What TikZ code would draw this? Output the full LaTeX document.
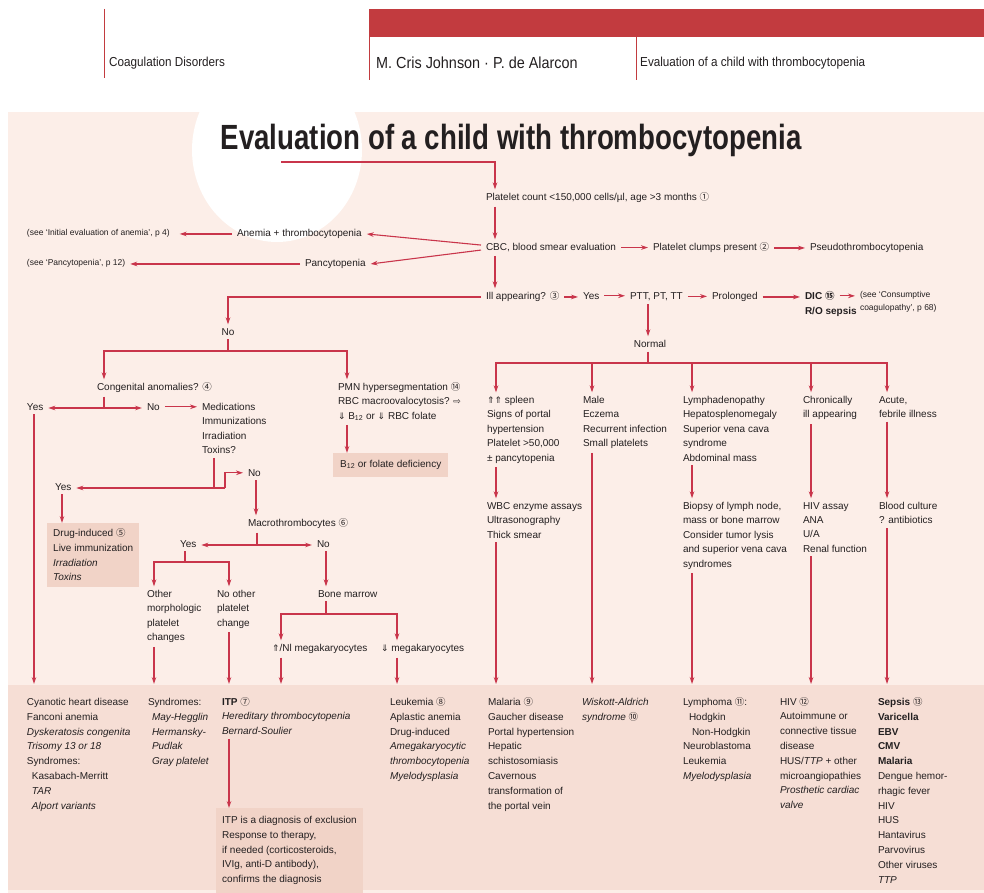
\documentclass[tikz,border=0pt]{standalone}
\usepackage{fontspec}
\setmainfont{Liberation Sans}
\newfontfamily\condfont[FakeStretch=0.9]{Liberation Sans}
\newfontfamily\titlefont[FakeStretch=0.79]{Liberation Sans}
\newfontfamily\symfont{DejaVu Sans}
\newfontfamily\cnfont{Noto Sans CJK SC}
\usepackage{tikz}
\usetikzlibrary{arrows.meta,positioning}
\definecolor{linered}{HTML}{C9354B}
\definecolor{barred}{HTML}{C23B3F}
\definecolor{panel}{HTML}{FCEEE8}
\definecolor{band}{HTML}{F6DED5}
\definecolor{boxfill}{HTML}{F1D3C7}
\definecolor{ink}{HTML}{231F20}
\newcommand{\cnum}[1]{\smash{\cnfont\fontsize{9.5}{9.5}\selectfont #1}}
\newcommand{\sym}[1]{\smash{\symfont\fontsize{9}{9}\selectfont #1}}
\newcommand{\fs}{\fontsize{10}{14.4}\selectfont}
\newcommand{\fsb}{\fontsize{10}{14.8}\selectfont}
\newcommand{\fsn}{\fontsize{8.5}{13}\selectfont}

\begin{document}
\begin{tikzpicture}[x=1pt, y=-1pt,
    tx/.style={inner sep=0pt, outer xsep=5pt, outer ysep=4pt, align=left, font=\fs, text=ink},
    txt/.style={tx, anchor=north west, xshift=-5pt, yshift=7.7pt},
    ctxt/.style={tx, anchor=north, yshift=7.7pt},
    note/.style={txt, font=\fsn},
    bot/.style={txt, font=\fsb},
    box/.style={anchor=north west, fill=boxfill, inner xsep=6pt, inner ysep=6pt, align=left, font=\fsb, text=ink},
    hdr/.style={anchor=base west, inner sep=0pt, text=ink},
    link/.style={linered, line width=1.1pt},
    arr/.style={link, -{Stealth[length=7pt,width=4.6pt]}}]

  % Background
  \fill[white] (0,0) rectangle (984,893);
  \useasboundingbox (0,0) rectangle (984,893);
  \fill[panel] (8,112) rectangle (984,893);
  \fill[band] (8,685) rectangle (984,890);
  \fill[white] (277,150) ellipse [x radius=85pt, y radius=92pt];

  % Header
  \draw[barred, line width=0.8pt] (104,9) -- (104,78);
  \fill[barred] (369,9) rectangle (984,37);
  \draw[barred, line width=0.8pt] (369,37) -- (369,80);
  \draw[barred, line width=0.8pt] (636,37) -- (636,80);
  \node[hdr, font=\condfont\fontsize{13}{13}\selectfont] (hdsec) at (109,67) {Coagulation Disorders};
  \node[hdr, font=\condfont\fontsize{16}{16}\selectfont] (hdauth) at (376,69) {M. Cris Johnson · P. de Alarcon};
  \node[hdr, font=\condfont\fontsize{13}{13}\selectfont] (hdtopic) at (640,67) {Evaluation of a child with thrombocytopenia};

  % Title
  \node[anchor=base, inner sep=0pt, text=ink, font=\titlefont\bfseries\fontsize{35}{35}\selectfont] (title) at (511,150) {Evaluation of a child with thrombocytopenia};

  % Column positions
  \foreach \n/\x in {cM/495, cN/648, c1/34, c2/154, c3/229, c4/281, c5/397,
                     cA/496, cB/592, cC/692, cD/811, cE/887,
                     cCg/104, cPm/347, cTx/214, cDr/62, cMa/256, cBn/326}
    \coordinate (\n) at (\x,0);
  \coordinate (bandtop) at (0,684);
  \coordinate (tA) at (281,162);
  \coordinate (jNo) at (228,351);
  \coordinate (jCg) at (104,408);
  \coordinate (jTx) at (225,488);
  \coordinate (jMa) at (257,545);
  \coordinate (jYs) at (185,562);
  \coordinate (jBn) at (326,614);
  \coordinate (jNm) at (648,363);

  % Main column
  \node[txt] (plt) at (486,197) {Platelet count <150,000 cells/µl, age >3 months \cnum{①}};
  \node[txt] (cbc) at (486,247) {CBC, blood smear evaluation};
  \node[txt] (clump) at (653,247) {Platelet clumps present \cnum{②}};
  \node[txt] (pseudo) at (810,247) {Pseudothrombocytopenia};
  \node[txt] (anem) at (237,233) {Anemia + thrombocytopenia};
  \node[note, outer xsep=10pt, xshift=-5pt] (seeA) at (27,233) {(see ‘Initial evaluation of anemia’, p 4)};
  \node[txt] (pan) at (305,263) {Pancytopenia};
  \node[note] (seeP) at (27,263) {(see ‘Pancytopenia’, p 12)};
  \node[txt] (ill) at (486,296) {Ill appearing? \cnum{③}};
  \node[txt] (yes1) at (583,296) {Yes};
  \node[txt] (ptt) at (630,296) {PTT, PT, TT};
  \node[txt] (prol) at (712,296) {Prolonged};
  \node[txt, font=\fs\bfseries] (dic) at (805,296) {DIC \cnum{⑮}};
  \node[txt, font=\fs\bfseries] (ros) at (805,311) {R/O sepsis};
  \node[note] (seeC) at (860,295) {(see ‘Consumptive\\coagulopathy’, p 68)};
  \node[ctxt] (no1) at (228,332) {No};
  \node[ctxt] (norm) at (650,344) {Normal};

  % Left branch
  \node[txt] (cong) at (97,387) {Congenital anomalies? \cnum{④}};
  \node[txt] (yes2) at (27,407) {Yes};
  \node[txt] (no2) at (147,407) {No};
  \node[txt] (meds) at (202,407) {Medications\\Immunizations\\Irradiation\\Toxins?};
  \node[txt] (yes3) at (55,487) {Yes};
  \node[txt] (no3) at (248,473) {No};
  \node[box] (drug) at (47,523) {Drug-induced \cnum{⑤}\\Live immunization\\\textit{Irradiation}\\\textit{Toxins}};
  \node[txt] (macro) at (248,523) {Macrothrombocytes \cnum{⑥}};
  \node[txt] (yes4) at (180,544) {Yes};
  \node[txt] (no4) at (317,544) {No};
  \node[txt] (other) at (147,594) {Other\\morphologic\\platelet\\changes};
  \node[txt] (noother) at (217,594) {No other\\platelet\\change};
  \node[txt] (bone) at (318,594) {Bone marrow};
  \node[txt] (megaU) at (272,648) {\sym{⇑}/Nl megakaryocytes};
  \node[txt] (megaD) at (381,648) {\sym{⇓} megakaryocytes};
  \node[txt] (pmn) at (338,387) {PMN hypersegmentation \cnum{⑭}\\RBC macroovalocytosis? \sym{⇨}\\\sym{⇓} B\textsubscript{12} or \sym{⇓} RBC folate};
  \node[box, inner xsep=7pt, inner ysep=7pt, font=\fs] (b12) at (333,453) {B\textsubscript{12} or folate deficiency};

  % Right branch
  \node[txt] (spl) at (487,400) {\sym{⇑⇑} spleen\\Signs of portal\\hypertension\\Platelet >50,000\\± pancytopenia};
  \node[txt] (male) at (583,400) {Male\\Eczema\\Recurrent infection\\Small platelets};
  \node[txt] (lymph) at (683,400) {Lymphadenopathy\\Hepatosplenomegaly\\Superior vena cava\\syndrome\\Abdominal mass};
  \node[txt] (chron) at (803,400) {Chronically\\ill appearing};
  \node[txt] (acute) at (879,400) {Acute,\\febrile illness};
  \node[txt] (wbc) at (487,506) {WBC enzyme assays\\Ultrasonography\\Thick smear};
  \node[txt] (biop) at (683,506) {Biopsy of lymph node,\\mass or bone marrow\\Consider tumor lysis\\and superior vena cava\\syndromes};
  \node[txt] (hiv) at (803,506) {HIV assay\\ANA\\U/A\\Renal function};
  \node[txt] (blood) at (879,506) {Blood culture\\? antibiotics};

  % Diagnoses
  \node[bot] (r1) at (27,702) {Cyanotic heart disease\\Fanconi anemia\\\textit{Dyskeratosis congenita}\\\textit{Trisomy 13 or 18}\\Syndromes:\\\hspace*{5pt}Kasabach-Merritt\\\hspace*{5pt}\textit{TAR}\\\hspace*{5pt}\textit{Alport variants}};
  \node[bot] (r2) at (148,702) {Syndromes:\\\hspace*{4pt}\textit{May-Hegglin}\\\hspace*{4pt}\textit{Hermansky-}\\\hspace*{4pt}\textit{Pudlak}\\\hspace*{4pt}\textit{Gray platelet}};
  \node[bot] (r3) at (222,702) {\textbf{ITP} \cnum{⑦}\\\textit{Hereditary thrombocytopenia}\\\textit{Bernard-Soulier}};
  \node[bot] (r4) at (390,702) {Leukemia \cnum{⑧}\\Aplastic anemia\\Drug-induced\\\textit{Amegakaryocytic}\\\textit{thrombocytopenia}\\\textit{Myelodysplasia}};
  \node[bot] (r5) at (488,702) {Malaria \cnum{⑨}\\Gaucher disease\\Portal hypertension\\Hepatic\\schistosomiasis\\Cavernous\\transformation of\\the portal vein};
  \node[bot] (r6) at (582,702) {\textit{Wiskott-Aldrich}\\\textit{syndrome} \cnum{⑩}};
  \node[bot] (r7) at (683,702) {Lymphoma \cnum{⑪}:\\\hspace*{6pt}Hodgkin\\\hspace*{9pt}Non-Hodgkin\\Neuroblastoma\\Leukemia\\\textit{Myelodysplasia}};
  \node[bot] (r8) at (780,702) {HIV \cnum{⑫}\\Autoimmune or\\connective tissue\\disease\\HUS/\textit{TTP} + other\\microangiopathies\\\textit{Prosthetic cardiac}\\\textit{valve}};
  \node[bot] (r9) at (878,702) {\textbf{Sepsis} \cnum{⑬}\\\textbf{Varicella}\\\textbf{EBV}\\\textbf{CMV}\\\textbf{Malaria}\\Dengue hemor-\\rhagic fever\\HIV\\HUS\\Hantavirus\\Parvovirus\\Other viruses\\\textit{TTP}};
  \node[box, inner ysep=8pt] (itp) at (216,808) {ITP is a diagnosis of exclusion\\Response to therapy,\\if needed (corticosteroids,\\IVIg, anti-D antibody),\\confirms the diagnosis};

  % Connectors
  \draw[arr] (tA) -| (plt.north -| cM);
  \foreach \a/\b/\c in {plt/cbc/cM, cbc/ill/cM, ptt/norm/cN, spl/wbc/cA, lymph/biop/cC,
                        chron/hiv/cD, acute/blood/cE, yes3/drug/cDr, no3/macro/cMa,
                        no4/bone/cBn, pmn/b12/cPm, r3/itp/c3}
    \draw[arr] (\a.south -| \c) -- (\b.north -| \c);
  \foreach \a/\b in {cbc/clump, clump/pseudo, ill/yes1, yes1/ptt, ptt/prol, prol/dic, dic/seeC, no2/meds}
    \draw[arr] (\a.east) -- (\a.east -| \b.west);
  \draw[arr] ([yshift=2.5pt]cbc.west) -- (anem.east);
  \draw[arr] ([yshift=-2.5pt]cbc.west) -- (pan.east);
  \draw[arr] (anem.west) -- (anem.west -| seeA.east);
  \draw[arr] (pan.west) -- (pan.west -| seeP.east);

  % No branch
  \draw[arr] (ill.west) -| (no1.north);
  \draw[link] (no1.south) -- (jNo);
  \draw[arr] (jNo) -| (cong.north -| cCg);
  \draw[arr] (jNo) -| (pmn.north -| cPm);
  \draw[link] (cong.south -| cCg) -- (jCg);
  \draw[arr] (jCg) -- (jCg -| yes2.east);
  \draw[arr] (jCg) -- (jCg -| no2.west);
  \draw[link] (meds.south -| cTx) -- (cTx |- jTx);
  \draw[arr] (jTx) -- (jTx -| yes3.east);
  \draw[arr] (jTx) |- (no3.west);
  \draw[link] (macro.south -| jMa) -- (jMa);
  \draw[arr] (jMa) -- (jMa -| yes4.east);
  \draw[arr] (jMa) -- (jMa -| no4.west);
  \draw[link] (yes4.south -| jYs) -- (jYs);
  \draw[arr] (jYs) -| (other.north -| c2);
  \draw[arr] (jYs) -| (noother.north -| c3);
  \draw[link] (bone.south -| jBn) -- (jBn);
  \draw[arr] (jBn) -| (megaU.north -| c4);
  \draw[arr] (jBn) -| (megaD.north -| c5);

  % Normal branch
  \draw[link] (norm.south -| jNm) -- (jNm);
  \foreach \n/\c in {spl/cA, male/cB, lymph/cC, chron/cD, acute/cE}
    \draw[arr] (jNm) -| (\n.north -| \c);

  % Into the diagnoses
  \foreach \n/\c in {yes2/c1, other/c2, noother/c3, megaU/c4, megaD/c5,
                     wbc/cA, male/cB, biop/cC, hiv/cD, blood/cE}
    \draw[arr] (\n.south -| \c) -- (bandtop -| \c);
\end{tikzpicture}
\end{document}
